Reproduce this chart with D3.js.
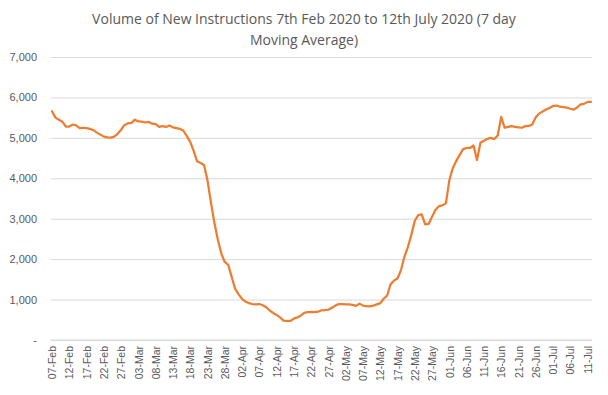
<!DOCTYPE html>
<html>
<head>
<meta charset="utf-8">
<script src="https://cdn.jsdelivr.net/npm/d3@7"></script>
<style>
  body { margin: 0; background: #fff; }
  svg { display: block; font-family: "Open Sans", "Noto Sans", sans-serif; }
</style>
</head>
<body>
<div id="chart"></div>
<script>
// chart data, one value per day from 07-Feb to 12-Jul 2020
const START_DATE = "2020-02-07";
const volumes = [
  5660, 5500, 5450, 5400, 5280, 5280, 5330, 5310, 5240, 5250,
  5240, 5220, 5190, 5130, 5080, 5030, 5010, 5005, 5030, 5100,
  5200, 5320, 5360, 5370, 5450, 5405, 5400, 5380, 5395, 5350,
  5340, 5270, 5290, 5270, 5305, 5260, 5240, 5220, 5180, 5050,
  4900, 4680, 4420, 4380, 4330, 3950, 3400, 2900, 2480, 2140,
  1930, 1860, 1560, 1270, 1130, 1020, 950, 910, 890, 880,
  890, 860, 810, 730, 670, 620, 560, 480, 470, 470,
  530, 560, 600, 670, 690, 695, 690, 700, 735, 740,
  750, 800, 850, 890, 890, 880, 880, 870, 845, 900,
  850, 835, 830, 850, 880, 910, 1020, 1100, 1380, 1470,
  1520, 1730, 2060, 2300, 2600, 2950, 3090, 3110, 2860, 2870,
  3050, 3220, 3310, 3330, 3380, 3950, 4250, 4430, 4580, 4720,
  4750, 4750, 4810, 4450, 4880, 4930, 4975, 5000, 4970, 5060,
  5520, 5250, 5270, 5290, 5270, 5260, 5250, 5290, 5295, 5330,
  5510, 5600, 5650, 5700, 5740, 5790, 5800, 5770, 5760, 5750,
  5720, 5700, 5750, 5830, 5840, 5890, 5890
];
const xTickLabels = [
  "07-Feb", "12-Feb", "17-Feb", "22-Feb", "27-Feb", "03-Mar", "08-Mar", "13-Mar",
  "18-Mar", "23-Mar", "28-Mar", "02-Apr", "07-Apr", "12-Apr", "17-Apr", "22-Apr",
  "27-Apr", "02-May", "07-May", "12-May", "17-May", "22-May", "27-May", "01-Jun",
  "06-Jun", "11-Jun", "16-Jun", "21-Jun", "26-Jun", "01-Jul", "06-Jul", "11-Jul"
];
const yTicks = [0, 1000, 2000, 3000, 4000, 5000, 6000, 7000];
const titleLines = ["Volume of New Instructions 7th Feb 2020 to 12th July 2020 (7 day", "Moving Average)"];

// frame and margins
const FRAME_WIDTH = 608;
const FRAME_HEIGHT = 395;
const MARGINS = {left: 52, right: 17, top: 57, bottom: 55};
const GRID_LEFT = 51;

const fmtDay = d3.timeFormat("%d-%b");
const start = d3.timeParse("%Y-%m-%d")(START_DATE);
const data = volumes.map((v, i) => ({date: d3.timeDay.offset(start, i), value: v}));
data.forEach(d => d.label = fmtDay(d.date));

const FRAME = d3.select("#chart")
  .append("svg")
  .attr("width", FRAME_WIDTH)
  .attr("height", FRAME_HEIGHT);

// scales
const xScale = d3.scalePoint()
  .domain(data.map(d => d.label))
  .range([MARGINS.left, FRAME_WIDTH - MARGINS.right]);
const yScale = d3.scaleLinear()
  .domain([0, 7000])
  .range([FRAME_HEIGHT - MARGINS.bottom, MARGINS.top]);

// gridlines + y labels
const yAxis = FRAME.append("g")
  .attr("transform", "translate(" + GRID_LEFT + ",0)")
  .call(d3.axisLeft(yScale)
    .tickValues(yTicks)
    .tickSize(-(FRAME_WIDTH - MARGINS.right - GRID_LEFT + 1))
    .tickPadding(14)
    .tickFormat(d => d === 0 ? "-" : d3.format(",")(d)));
yAxis.select(".domain").remove();
yAxis.selectAll(".tick line")
  .attr("stroke", "#d9d9d9")
  .attr("stroke-width", 1);
yAxis.selectAll(".tick text")
  .attr("fill", "#595959")
  .style("font-size", "11px");

// x axis (labels every 5 days)
const xAxis = FRAME.append("g")
  .attr("transform", "translate(0," + (FRAME_HEIGHT - MARGINS.bottom) + ")")
  .call(d3.axisBottom(xScale)
    .tickValues(xTickLabels)
    .tickSize(0)
    .tickPadding(6));
xAxis.select(".domain")
  .attr("d", "M" + GRID_LEFT + ",0H" + (FRAME_WIDTH - MARGINS.right + 1))
  .attr("stroke", "#d9d9d9");
xAxis.selectAll(".tick text")
  .attr("fill", "#595959")
  .style("font-size", "10.5px")
  .attr("transform", "rotate(-90)")
  .attr("text-anchor", "end")
  .attr("x", -6)
  .attr("y", 0)
  .attr("dy", "0.35em");

// the line
const line = d3.line()
  .x(d => xScale(d.label))
  .y(d => yScale(d.value));
FRAME.append("path")
  .datum(data)
  .attr("fill", "none")
  .attr("stroke", "#ed7d31")
  .attr("stroke-width", 2.25)
  .attr("stroke-linejoin", "round")
  .attr("stroke-linecap", "round")
  .attr("d", line);

// title
const title = FRAME.append("text")
  .attr("text-anchor", "middle")
  .attr("fill", "#595959")
  .style("font-size", "14px");
titleLines.forEach((t, i) => {
  title.append("tspan")
    .attr("x", 304)
    .attr("y", 24 + i * 21)
    .text(t);
});
</script>
</body>
</html>
